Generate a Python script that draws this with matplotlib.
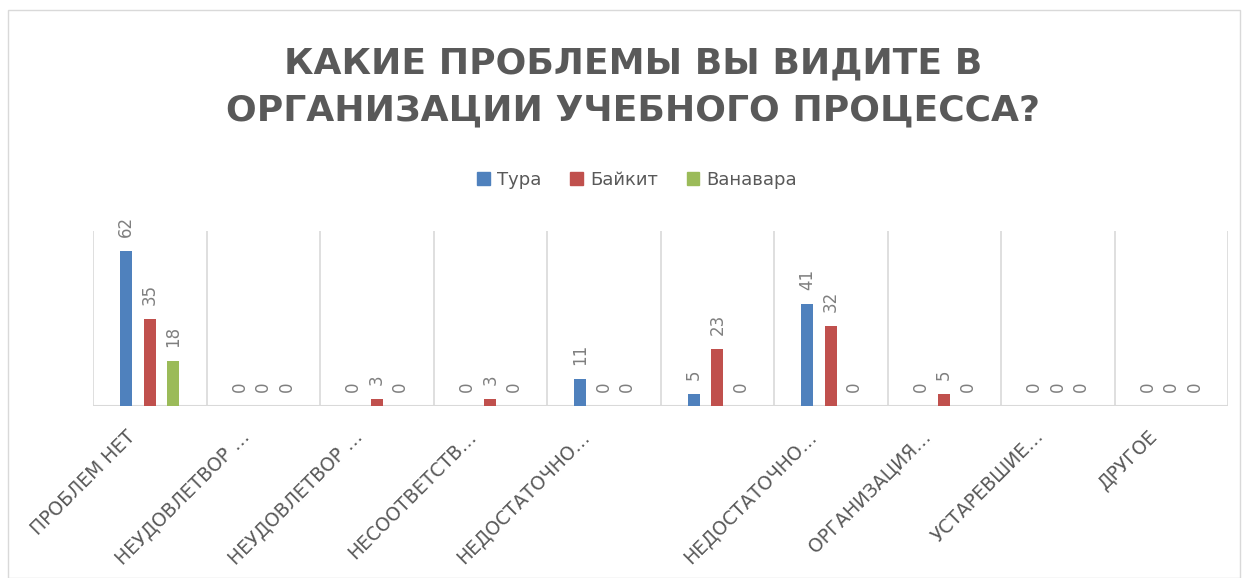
import matplotlib
matplotlib.use("Agg")
import matplotlib.pyplot as plt
from matplotlib.patches import Rectangle, Patch
import numpy as np

categories = ["ПРОБЛЕМ НЕТ", "НЕУДОВЛЕТВОР …", "НЕУДОВЛЕТВОР …", "НЕСООТВЕТСТВ…",
              "НЕДОСТАТОЧНО…", "", "НЕДОСТАТОЧНО…", "ОРГАНИЗАЦИЯ…",
              "УСТАРЕВШИЕ…", "ДРУГОЕ"]
series_names = ["Тура", "Байкит", "Ванавара"]
tura = [62, 0, 0, 0, 11, 5, 41, 0, 0, 0]
baikit = [35, 0, 3, 3, 0, 23, 32, 5, 0, 0]
vanavara = [18, 0, 0, 0, 0, 0, 0, 0, 0, 0]
colors = ["#4f81bd", "#c0504d", "#9bbb59"]
title = "КАКИЕ ПРОБЛЕМЫ ВЫ ВИДИТЕ В\nОРГАНИЗАЦИИ УЧЕБНОГО ПРОЦЕССА?"

plt.rcParams['font.family'] = ['DejaVu Sans']
W, H = 1249, 578
fig = plt.figure(figsize=(W / 100, H / 100), dpi=100)
fig.patch.set_facecolor("white")

# chart border
fig.add_artist(Rectangle((8 / W, 0), (1240 - 8) / W, 1 - 10 / H,
                         transform=fig.transFigure, fill=False,
                         edgecolor="#d9d9d9", linewidth=1.0))

left, right = 93 / W, 1228 / W
bottom, top = 1 - 406 / H, 1 - 231 / H
ax = fig.add_axes([left, bottom, right - left, top - bottom])

n = len(categories)
x = np.arange(n)
bw = 0.105
offs = [-0.207, 0.0, 0.207]
data = [tura, baikit, vanavara]
for s, (vals, c, off) in enumerate(zip(data, colors, offs)):
    ax.bar(x + off, vals, width=bw, color=c, zorder=3, label=series_names[s])
    for xi, v in zip(x, vals):
        ax.annotate(str(v), (xi + off, v), xytext=(0, 10), textcoords="offset points",
                    rotation=90, ha="center", va="bottom", fontsize=12,
                    color="#7f7f7f", zorder=4)

ax.set_xlim(-0.5, n - 0.5)
ax.set_ylim(0, 70)
for b in np.arange(-0.5, n, 1.0):
    ax.axvline(b, color="#d9d9d9", linewidth=1.2, zorder=1)
ax.axhline(0, color="#d9d9d9", linewidth=1.5, zorder=2)
for sp in ax.spines.values():
    sp.set_visible(False)
ax.set_yticks([])
ax.set_xticks(x)
ax.set_xticklabels([])
ax.tick_params(axis="x", length=0)

for xi, lab in zip(x, categories):
    ax.annotate(lab, (xi, 0), xytext=(-17, -15), textcoords="offset points",
                rotation=45, rotation_mode="anchor", ha="right", va="top",
                fontsize=13.5, color="#595959", annotation_clip=False)

fig.text(633 / W, 1 - 87 / H, title, ha="center", va="center", fontsize=26,
         fontweight="bold", color="#595959", linespacing=1.45)

handles = [Patch(facecolor=c, edgecolor=c) for c in colors]
fig.legend(handles, series_names, loc="center", bbox_to_anchor=(637 / W, 1 - 180 / H),
           ncol=3, frameon=False, fontsize=13, handlelength=0.7, handleheight=0.7,
           handletextpad=0.4, columnspacing=1.6, labelcolor="#595959")

fig.savefig("out.png", dpi=100, facecolor="white")
